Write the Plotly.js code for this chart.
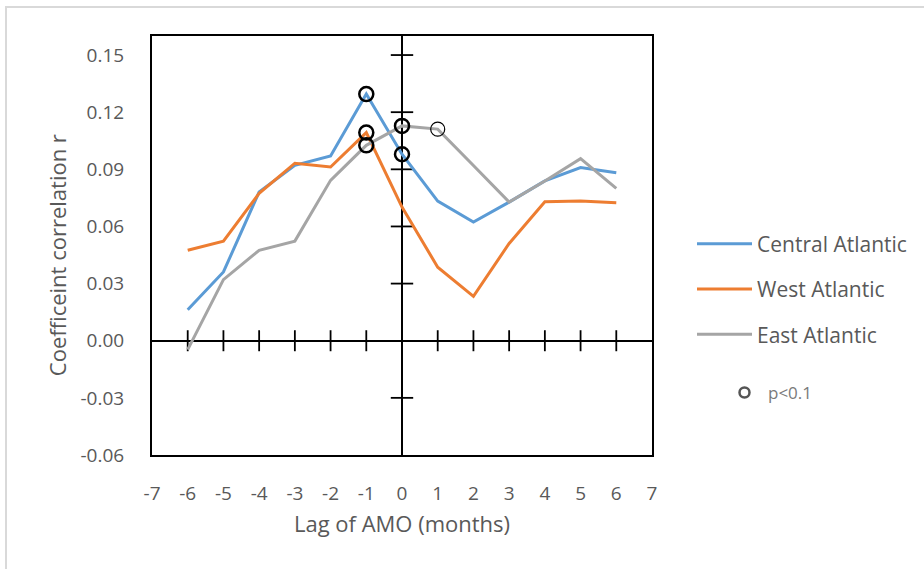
<!DOCTYPE html>
<html>
<head>
<meta charset="utf-8">
<script src="https://cdn.plot.ly/plotly-3.0.1.min.js"></script>
<style>
  html, body { margin: 0; padding: 0; background: #ffffff; }
  #frame { position: absolute; left: 5px; top: 6px; width: 1000px; height: 700px; border-left: 2px solid #d9d9d9; border-top: 2px solid #d9d9d9; pointer-events: none; }
  #chart { position: absolute; left: 0; top: 0; width: 924px; height: 569px; }
</style>
</head>
<body>
<div id="chart"></div>
<div id="frame"></div>
<script>
// Lag of AMO (months)
var lags = [-6, -5, -4, -3, -2, -1, 0, 1, 2, 3, 4, 5, 6];
var central = [0.0163, 0.0361, 0.0781, 0.0921, 0.0970, 0.1295, 0.0979, 0.0733, 0.0623, 0.0728, 0.0839, 0.0909, 0.0882];
var west    = [0.0475, 0.0523, 0.0774, 0.0932, 0.0912, 0.1093, 0.0702, 0.0386, 0.0233, 0.0511, 0.0730, 0.0733, 0.0725];
var east    = [-0.0047, 0.0321, 0.0475, 0.0523, 0.0842, 0.1026, 0.1128, 0.1111, 0.0920, 0.0728, 0.0839, 0.0956, 0.0800];

// significant (p<0.1) lags for each series
var centralSig = [-1, 0];
var westSig = [-1];
var eastSig = [-1, 0];
var eastSigThin = [1];

var seriesNames = ['Central Atlantic', 'West Atlantic', 'East Atlantic'];
var seriesColors = ['#5B9BD5', '#ED7D31', '#A5A5A5'];

var xTickVals = [-7, -6, -5, -4, -3, -2, -1, 0, 1, 2, 3, 4, 5, 6, 7];
var yTickVals = [-0.06, -0.03, 0, 0.03, 0.06, 0.09, 0.12, 0.15];
var yTickText = ['-0.06', '-0.03', '0.00', '0.03', '0.06', '0.09', '0.12', '0.15'];
var crossXTicks = [-6, -5, -4, -3, -2, -1, 0, 1, 2, 3, 4, 5, 6];
var crossYTicks = [-0.03, 0.03, 0.06, 0.09, 0.12, 0.15];

function valAt(series, lag) { return series[lags.indexOf(lag)]; }

var sigX = [], sigY = [], sigW = [];
centralSig.forEach(function (l) { sigX.push(l); sigY.push(valAt(central, l)); sigW.push(2.5); });
westSig.forEach(function (l) { sigX.push(l); sigY.push(valAt(west, l)); sigW.push(2.5); });
eastSig.forEach(function (l) { sigX.push(l); sigY.push(valAt(east, l)); sigW.push(2.5); });
eastSigThin.forEach(function (l) { sigX.push(l); sigY.push(valAt(east, l)); sigW.push(1.2); });

var traces = [];
// cross ticks on the zero axes
traces.push({
  x: crossXTicks, y: crossXTicks.map(function () { return 0; }),
  mode: 'markers', type: 'scatter', showlegend: false, hoverinfo: 'skip',
  marker: { symbol: 'line-ns', size: 15, color: '#000', line: { color: '#000', width: 1.8 } }
});
traces.push({
  x: crossYTicks.map(function () { return 0; }), y: crossYTicks,
  mode: 'markers', type: 'scatter', showlegend: false, hoverinfo: 'skip',
  marker: { symbol: 'line-ew', size: 16, color: '#000', line: { color: '#000', width: 1.8 } }
});

[central, west, east].forEach(function (s, i) {
  traces.push({
    x: lags, y: s, name: seriesNames[i], type: 'scatter', mode: 'lines',
    line: { color: seriesColors[i], width: 3 },
    legendgroup: 'g' + i
  });
});

traces.push({
  x: sigX, y: sigY, type: 'scatter', mode: 'markers', showlegend: false,
  marker: { symbol: 'circle-open', size: 14, color: '#000', line: { color: '#000', width: sigW } }
});

// legend-only entry for the significance marker
traces.push({
  x: [null], y: [null], type: 'scatter', mode: 'markers', name: 'p<0.1',
  legend: 'legend2', showlegend: true,
  marker: { symbol: 'circle-open', size: 10, color: '#555', line: { color: '#555', width: 2.5 } }
});

var layout = {
  width: 924, height: 569,
  margin: { l: 152, r: 272, t: 36, b: 114 },
  paper_bgcolor: 'rgba(0,0,0,0)', plot_bgcolor: '#fff',
  font: { family: 'Open Sans, sans-serif', color: '#595959', size: 18 },
  hovermode: false,
  xaxis: {
    range: [-7, 7], tickvals: xTickVals, ticktext: xTickVals.map(function (v) { return String(v); }),
    showgrid: false, zeroline: true, zerolinecolor: '#000', zerolinewidth: 2,
    showline: true, mirror: true, linecolor: '#000', linewidth: 2,
    ticks: '', ticklabelstandoff: 20,
    tickfont: { size: 19, color: '#595959' },
    title: { text: 'Lag of AMO (months)', font: { size: 22, color: '#595959' }, standoff: 12 }
  },
  yaxis: {
    range: [-0.06, 0.16], tickvals: yTickVals, ticktext: yTickText,
    showgrid: false, zeroline: true, zerolinecolor: '#000', zerolinewidth: 2,
    showline: true, mirror: true, linecolor: '#000', linewidth: 2,
    ticks: '', ticklabelstandoff: 22,
    tickfont: { size: 19, color: '#595959' }
  },
  annotations: [{
    text: 'Coefficeint correlation r', textangle: -90, showarrow: false,
    xref: 'paper', yref: 'paper', x: -0.19, y: 0.477, xanchor: 'center', yanchor: 'middle',
    font: { size: 22, color: '#595959' }
  }],
  showlegend: true,
  legend: {
    x: 1.08, xanchor: 'left', y: 0.396, yanchor: 'middle',
    font: { size: 21, color: '#595959' }, tracegroupgap: 15,
    bgcolor: 'rgba(0,0,0,0)', itemwidth: 55
  },
  legend2: {
    x: 1.138, xanchor: 'left', y: 0.148, yanchor: 'middle',
    font: { size: 17, color: '#7a7a7a' },
    bgcolor: 'rgba(0,0,0,0)', itemwidth: 37
  }
};

Plotly.newPlot('chart', traces, layout, { displayModeBar: false, staticPlot: true });
</script>
</body>
</html>
